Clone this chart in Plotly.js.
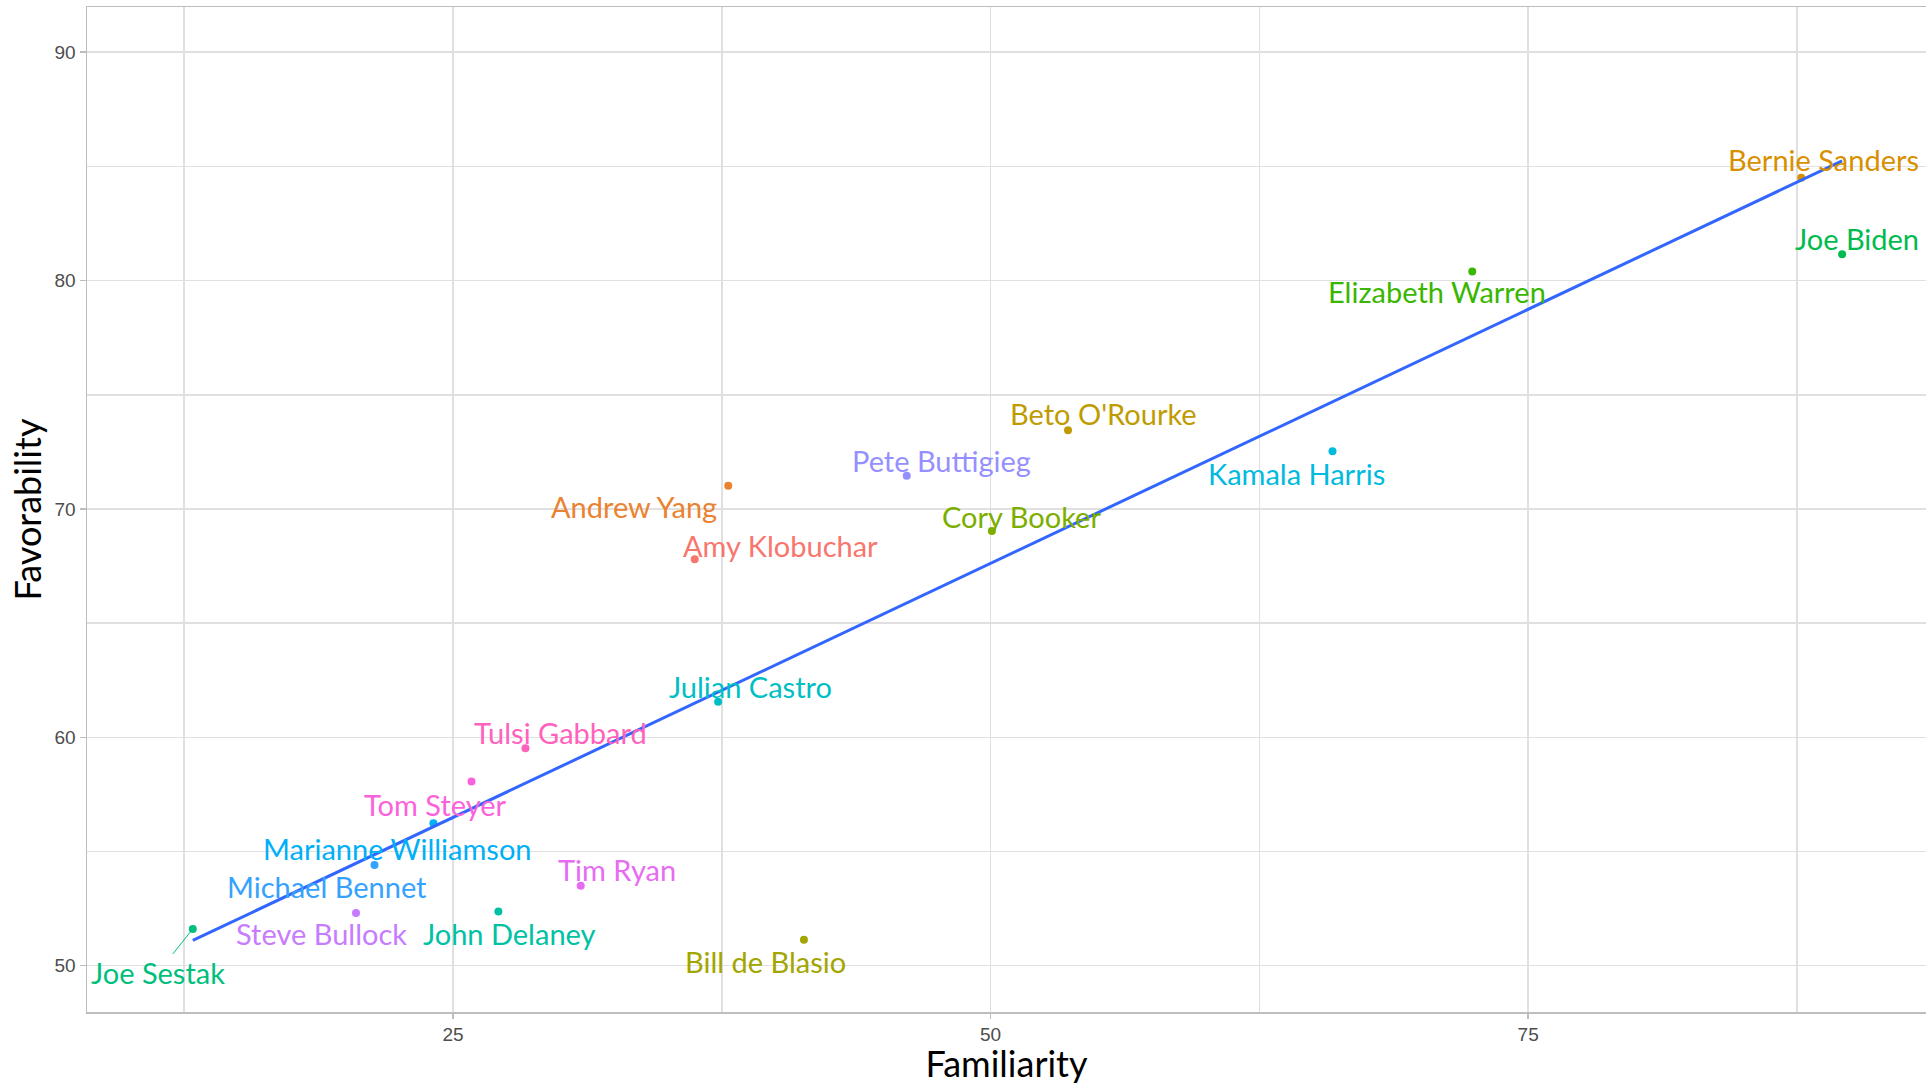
<!DOCTYPE html>
<html>
<head>
<meta charset="utf-8">
<script src="https://cdn.plot.ly/plotly-3.0.1.min.js"></script>
<style>html,body{margin:0;padding:0;background:#fff;}#chart{width:1926px;height:1085px;}</style>
</head>
<body>
<div id="chart"></div>
<script>
// ---- Data ----
const candidates = [
  "Bernie Sanders", "Joe Biden", "Elizabeth Warren", "Beto O'Rourke", "Pete Buttigieg",
  "Kamala Harris", "Andrew Yang", "Cory Booker", "Amy Klobuchar", "Julian Castro",
  "Tulsi Gabbard", "Tom Steyer", "Marianne Williamson", "Michael Bennet", "Tim Ryan",
  "Steve Bullock", "John Delaney", "Bill de Blasio", "Joe Sestak"
];
const familiarity = [
  87.7, 89.6, 72.4, 53.6, 46.1,
  65.9, 37.8, 50.06, 36.24, 37.33,
  28.37, 25.86, 24.09, 21.35, 30.94,
  20.49, 27.11, 41.32, 12.9
];
const favorability = [
  84.5, 81.15, 80.4, 73.44, 71.45,
  72.53, 71.02, 69.03, 67.8, 61.56,
  59.52, 58.06, 56.24, 54.41, 53.5,
  52.31, 52.37, 51.13, 51.61
];
const xTickVals = [25, 50, 75];
const yTickVals = [50, 60, 70, 80, 90];

// ---- Label placement (pixel offsets of each label from its point) ----
const labelDX = [22, 15, -35, 35, 35, -36, -94, 30, 86, 32, 35, -36, -36, -48, 36, -35, 11, -38, -35];
const labelDY = [-18, -16, 20, -17, -15, 22, 21, -15, -14, -15, -16, 23, 25, 22, -16, 21, 22, 22, 44];
const segmentShown = ["Joe Sestak"];

// ---- ggplot2 default hue palette (hcl, c=100, l=65) ----
// The colour factor in the source has one more level than the plotted candidates.
const paletteSize = 20;
function hcl(h, c, l) {
  const WU = 0.1978398, WV = 0.4683363;
  const hr = h * Math.PI / 180;
  const U = c * Math.cos(hr), V = c * Math.sin(hr);
  const Y = l > 7.999592 ? Math.pow((l + 16) / 116, 3) : l / 903.3;
  const u = U / (13 * l) + WU, v = V / (13 * l) + WV;
  const X = 9 * Y * u / (4 * v);
  const Z = -X / 3 - 5 * Y + 3 * Y / v;
  const g = t => t > 0.00304 ? 1.055 * Math.pow(t, 1 / 2.4) - 0.055 : 12.92 * t;
  const cl = t => Math.max(0, Math.min(1, t));
  const r = cl(g(3.240479 * X - 1.537150 * Y - 0.498535 * Z));
  const gg = cl(g(-0.969256 * X + 1.875992 * Y + 0.041556 * Z));
  const b = cl(g(0.055648 * X - 0.204043 * Y + 1.057311 * Z));
  const hx = t => Math.round(t * 255).toString(16).padStart(2, '0');
  return '#' + hx(r) + hx(gg) + hx(b);
}
const levels = candidates.slice().sort();
const n = candidates.length;
const palette = {};
levels.forEach((name, i) => { palette[name] = hcl(15 + i * 360 / paletteSize, 100, 65); });
const colors = candidates.map(c => palette[c]);

// ---- Linear fit (geom_smooth method = lm) ----
const mx = familiarity.reduce((a, b) => a + b, 0) / n;
const my = favorability.reduce((a, b) => a + b, 0) / n;
let sxy = 0, sxx = 0;
for (let i = 0; i < n; i++) {
  sxy += (familiarity[i] - mx) * (favorability[i] - my);
  sxx += (familiarity[i] - mx) ** 2;
}
const slope = sxy / sxx, intercept = my - slope * mx;
const fitX = [Math.min(...familiarity), Math.max(...familiarity)];
const fitY = fitX.map(x => intercept + slope * x);

const labelFont = "Lato, 'Noto Sans', sans-serif";

const traces = [
  {
    type: 'scatter', mode: 'markers',
    x: familiarity, y: favorability, text: candidates,
    marker: { color: colors, size: 8 },
    hoverinfo: 'text+x+y', showlegend: false
  },
  {
    type: 'scatter', mode: 'lines',
    x: fitX, y: fitY,
    line: { color: '#3366FF', width: 3 },
    hoverinfo: 'skip', showlegend: false
  }
];

const annotations = candidates.map((name, i) => ({
  x: familiarity[i], y: favorability[i], xref: 'x', yref: 'y',
  text: name, showarrow: true, ax: labelDX[i], ay: labelDY[i],
  arrowhead: 0, arrowwidth: 1, standoff: 4,
  arrowcolor: segmentShown.includes(name) ? colors[i] : 'rgba(0,0,0,0)',
  font: { family: labelFont, size: 29, color: colors[i] }
}));

const gridColor = '#E0E0E0';
const borderColor = '#BDBDBD';
const tickFont = { family: "'Liberation Sans', Arial, sans-serif", size: 19, color: '#4D4D4D' };

const layout = {
  width: 1926, height: 1085,
  margin: { l: 87, r: 0, t: 7, b: 73 },
  paper_bgcolor: '#FFFFFF', plot_bgcolor: '#FFFFFF',
  showlegend: false,
  xaxis: {
    range: [7.98, 93.5], tickvals: xTickVals, ticktext: xTickVals.map(String),
    showgrid: true, gridcolor: gridColor, gridwidth: 1.5, zeroline: false,
    minor: { tickvals: [12.5, 37.5, 62.5, 87.5], showgrid: true, gridcolor: gridColor, gridwidth: 1.5, ticks: '' },
    showline: true, linecolor: borderColor, linewidth: 1.5, mirror: true,
    ticks: 'outside', ticklen: 5, tickwidth: 1.5, tickcolor: borderColor,
    tickfont: tickFont,
    title: { text: 'Familiarity', standoff: 7, font: { family: labelFont, size: 36, color: '#000000' } }
  },
  yaxis: {
    range: [47.97, 91.98], tickvals: yTickVals, ticktext: yTickVals.map(String),
    showgrid: true, gridcolor: gridColor, gridwidth: 1.5, zeroline: false,
    minor: { tickvals: [55, 65, 75, 85], showgrid: true, gridcolor: gridColor, gridwidth: 1.5, ticks: '' },
    showline: true, linecolor: borderColor, linewidth: 1.5, mirror: false,
    ticks: 'outside', ticklen: 6, tickwidth: 1.5, tickcolor: borderColor,
    tickfont: tickFont,
    title: { text: 'Favorability', standoff: 2, font: { family: labelFont, size: 36, color: '#000000' } }
  },
  annotations: annotations
};

Plotly.newPlot('chart', traces, layout, { displayModeBar: false, staticPlot: true });
</script>
</body>
</html>
